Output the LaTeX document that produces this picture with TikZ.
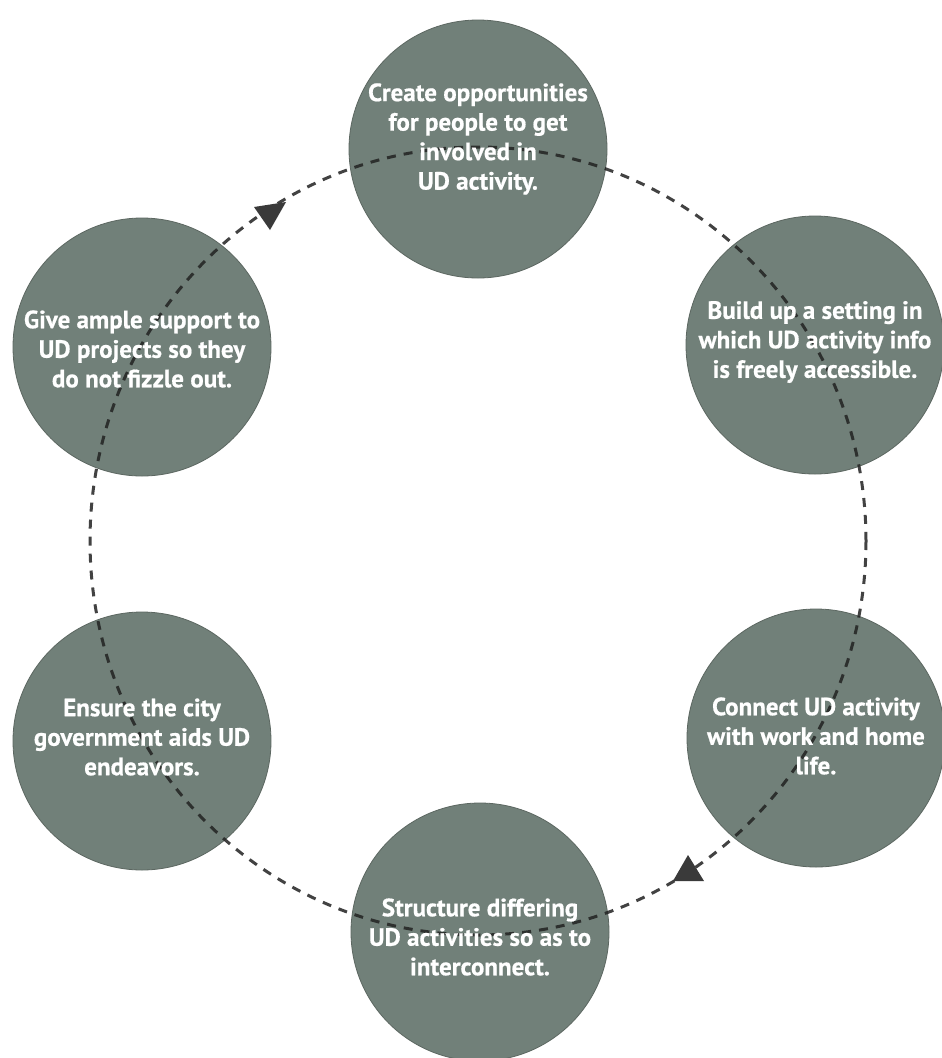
\documentclass[tikz,border=0pt]{standalone}
\usepackage{fontspec}
\setmainfont{PT Sans}[BoldFeatures={FakeBold=0.6}]
\definecolor{discfill}{HTML}{718079}
\definecolor{discedge}{HTML}{5C6761}
\definecolor{ringcol}{HTML}{222222}
\definecolor{tricol}{HTML}{3A3A3A}
\begin{document}
\begin{tikzpicture}[x=1pt,y=-1pt,
  disc/.style={circle, fill=discfill, draw=discedge, line width=0.8pt, minimum size=258pt, inner sep=0pt},
  lbl/.style={text=white, font=\bfseries\fontsize{25}{29.5}\selectfont, align=center, inner sep=0pt},
  ringline/.style={draw=ringcol, draw opacity=0.85, dash pattern=on 9pt off 8pt, line width=3pt},
  tri/.style={fill=tricol}]
\useasboundingbox (0,0) rectangle (942,1058);
\fill[white] (0,0) rectangle (942,1058);
\coordinate (O) at (478,541);
% discs
\node[disc] (c1) at (478,149) {};
\node[disc] (c2) at (815,345) {};
\node[disc] (c3) at (816,738) {};
\node[disc] (c4) at (480,932) {};
\node[disc] (c5) at (142,741) {};
\node[disc] (c6) at (142,347) {};
% dashed cycle
\draw[ringline] (O) ellipse [x radius=388, y radius=394];
% arrowheads
\fill[tri] (254,207) -- (286,202) -- (270,230) -- cycle;
\fill[tri] (688,855) -- (704,881) -- (673,881) -- cycle;
% labels
\node[lbl] (t1) at (478,139) {Create opportunities\\for people to get\\involved in\\UD activity.};
\node[lbl] (t2) at (815,342) {Build up a setting in\\which UD activity info\\is freely accessible.};
\node[lbl] (t3) at (816,736) {Connect UD activity\\with work and home\\life.};
\node[lbl] (t4) at (480,937) {Structure differing\\UD activities so as to\\interconnect.};
\node[lbl] (t5) at (142,737) {Ensure the city\\government aids UD\\endeavors.};
\node[lbl] (t6) at (142,349) {Give ample support to\\UD projects so they\\do not fizzle out.};
\end{tikzpicture}
\end{document}
